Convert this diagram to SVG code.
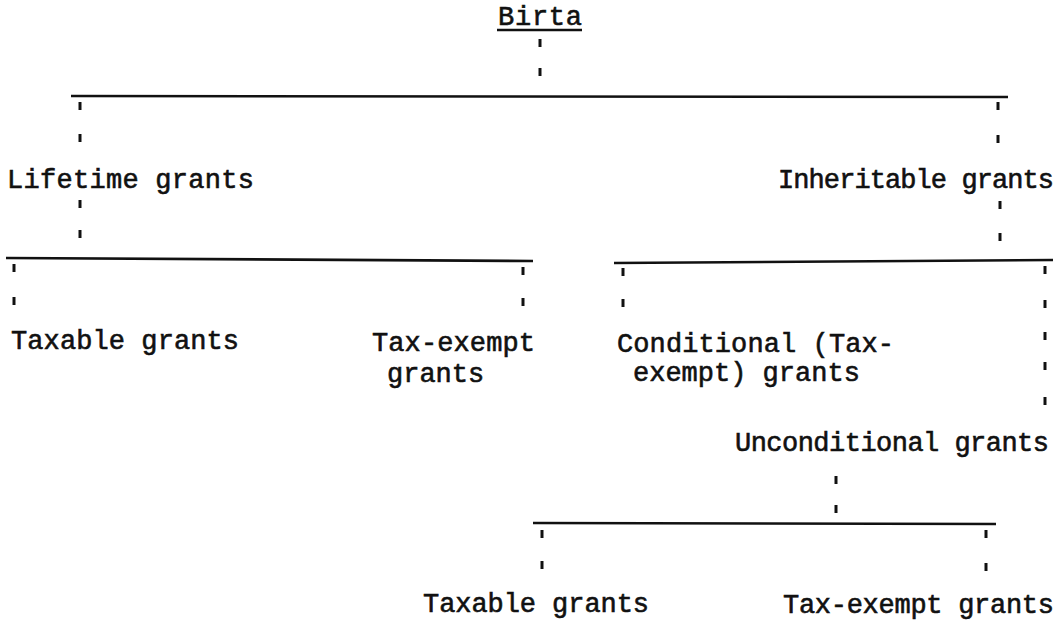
<svg xmlns="http://www.w3.org/2000/svg" width="1063" height="621" viewBox="0 0 1063 621">
<style>
text{font-family:"Liberation Mono","Courier New",monospace;font-size:27px;fill:#111;stroke:#111;stroke-width:0.6}
.bar{stroke:#111;stroke-width:2.6;fill:none}
.tick{stroke:#111;stroke-width:3;fill:none}
</style>
<rect width="1063" height="621" fill="#fff"/>
<g id="connectors">
<line class="bar" x1="497" y1="30" x2="582" y2="30"/>
<line class="tick" x1="540" y1="39" x2="540" y2="47"/>
<line class="tick" x1="540" y1="68" x2="540" y2="76"/>
<line class="bar" x1="71" y1="96" x2="1008" y2="97"/>
<line class="tick" x1="80" y1="102" x2="80" y2="110"/>
<line class="tick" x1="80" y1="134" x2="80" y2="142"/>
<line class="tick" x1="998" y1="102" x2="998" y2="110"/>
<line class="tick" x1="998" y1="135" x2="998" y2="143"/>
<line class="tick" x1="80" y1="200" x2="80" y2="208"/>
<line class="tick" x1="80" y1="230" x2="80" y2="238"/>
<line class="tick" x1="1000" y1="201" x2="1000" y2="209"/>
<line class="tick" x1="1000" y1="233" x2="1000" y2="241"/>
<line class="bar" x1="6" y1="258" x2="533" y2="261"/>
<line class="bar" x1="614" y1="263" x2="1053" y2="260"/>
<line class="tick" x1="14" y1="264" x2="14" y2="272"/>
<line class="tick" x1="14" y1="297" x2="14" y2="305"/>
<line class="tick" x1="523" y1="267" x2="523" y2="275"/>
<line class="tick" x1="523" y1="298" x2="523" y2="306"/>
<line class="tick" x1="623" y1="268" x2="623" y2="276"/>
<line class="tick" x1="623" y1="299" x2="623" y2="307"/>
<line class="tick" x1="1045" y1="266" x2="1045" y2="274"/>
<line class="tick" x1="1045" y1="300" x2="1045" y2="308"/>
<line class="tick" x1="1045" y1="332" x2="1045" y2="340"/>
<line class="tick" x1="1045" y1="362" x2="1045" y2="370"/>
<line class="tick" x1="1045" y1="397" x2="1045" y2="405"/>
<line class="tick" x1="836" y1="476" x2="836" y2="484"/>
<line class="tick" x1="836" y1="505" x2="836" y2="513"/>
<line class="bar" x1="533" y1="523" x2="996" y2="524"/>
<line class="tick" x1="542" y1="530" x2="542" y2="538"/>
<line class="tick" x1="542" y1="561" x2="542" y2="569"/>
<line class="tick" x1="986" y1="530" x2="986" y2="538"/>
<line class="tick" x1="986" y1="563" x2="986" y2="571"/>
</g>
<g id="birta"><text x="498" y="25" textLength="84" lengthAdjust="spacing">Birta</text></g>
<g id="lifetime"><text x="7" y="188" textLength="247" lengthAdjust="spacing">Lifetime grants</text></g>
<g id="inheritable"><text x="778" y="188" textLength="276" lengthAdjust="spacing">Inheritable grants</text></g>
<g id="taxable1"><text x="11" y="349" textLength="228" lengthAdjust="spacing">Taxable grants</text></g>
<g id="taxexempt1"><text x="372" y="351" textLength="163" lengthAdjust="spacing">Tax-exempt</text><text x="387" y="382">grants</text></g>
<g id="conditional"><text x="617" y="352" textLength="277" lengthAdjust="spacing">Conditional (Tax-</text><text x="633" y="381">exempt) grants</text></g>
<g id="unconditional"><text x="735" y="451" textLength="314" lengthAdjust="spacing">Unconditional grants</text></g>
<g id="taxable2"><text x="423" y="612" textLength="226" lengthAdjust="spacing">Taxable grants</text></g>
<g id="taxexempt2"><text x="783" y="613" textLength="271" lengthAdjust="spacing">Tax-exempt grants</text></g>
</svg>
